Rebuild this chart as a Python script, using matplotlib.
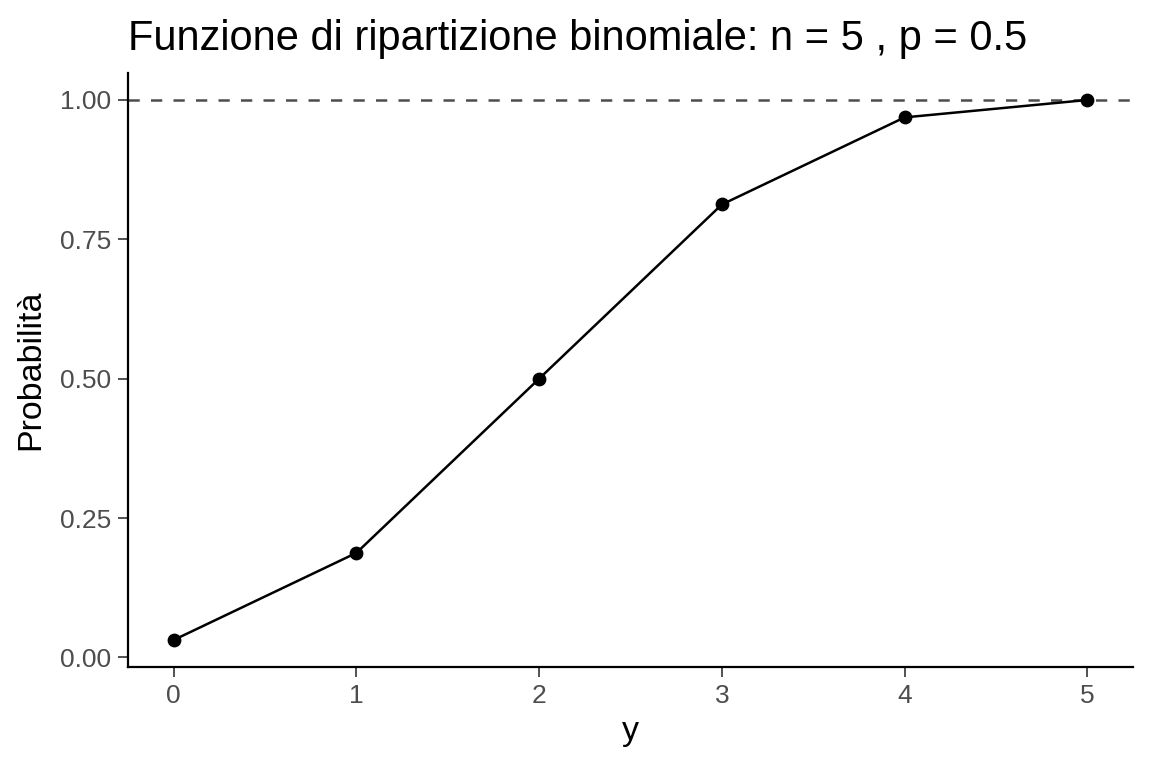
import matplotlib
matplotlib.use("Agg")
import matplotlib.pyplot as plt

# Funzione di ripartizione binomiale n = 5, p = 0.5
valori_y = [0, 1, 2, 3, 4, 5]
probabilita = [0.03125, 0.1875, 0.5, 0.8125, 0.96875, 1.0]
tick_y = [0.0, 0.25, 0.5, 0.75, 1.0]
etichette_y = ["0.00", "0.25", "0.50", "0.75", "1.00"]

plt.rcParams['font.family'] = ['Liberation Sans', 'DejaVu Sans']

fig = plt.figure(figsize=(11.52, 7.68), dpi=100)
ax = fig.add_axes([128 / 1152, 1 - 667 / 768, (1133 - 128) / 1152, (667 - 73) / 768])

ax.axhline(1.0, color='#4D4D4D', linestyle=(0, (4.5, 4.5)), linewidth=1.8, zorder=1)
ax.plot(valori_y, probabilita, color='black', linewidth=1.8, zorder=2)
ax.scatter(valori_y, probabilita, color='black', s=80, zorder=3)

ax.set_xlim(-0.25, 5.25)
ax.set_ylim(-0.0172, 1.0484)
ax.set_xticks(valori_y)
ax.set_yticks(tick_y)
ax.set_yticklabels(etichette_y)

for lato in ['top', 'right']:
    ax.spines[lato].set_visible(False)
for lato in ['left', 'bottom']:
    ax.spines[lato].set_linewidth(1.6)
ax.tick_params(axis='both', length=7, width=1.2, color='#333333',
               labelsize=19, labelcolor='#4D4D4D', pad=5)

ax.set_xlabel('y', fontsize=24.5, labelpad=6)
ax.set_ylabel('Probabilità', fontsize=24.5, labelpad=10)

fig.text(128 / 1152, 1 - 50 / 768, 'Funzione di ripartizione binomiale: n = 5 , p = 0.5',
         fontsize=30, ha='left', va='baseline')

fig.savefig('out.png', dpi=100)
